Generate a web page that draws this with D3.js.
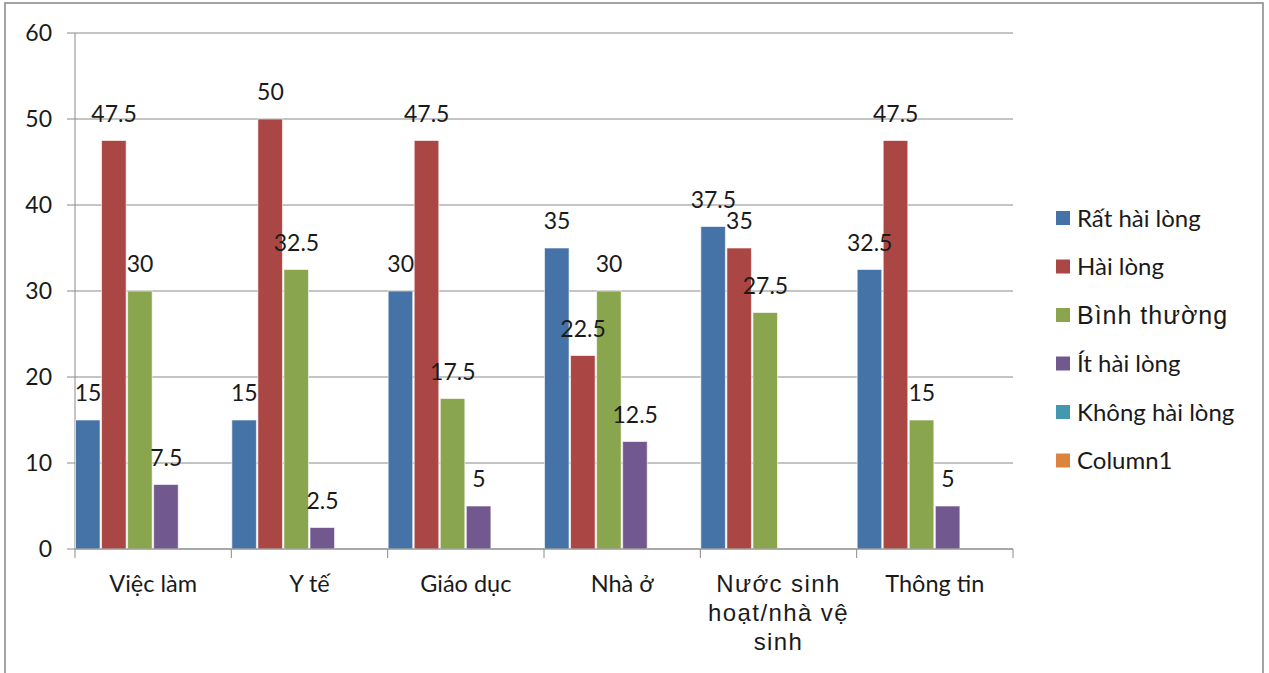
<!DOCTYPE html>
<html>
<head>
<meta charset="utf-8">
<script src="https://cdn.jsdelivr.net/npm/d3@7"></script>
<style>
  html, body { margin: 0; padding: 0; background: #fff; }
  svg { display: block; }
  .calib { font-family: Lato, "Open Sans", sans-serif; fill: #1a1a1a; }
  .arial { font-family: "Liberation Sans", Arial, sans-serif; fill: #1a1a1a; }
</style>
</head>
<body>
<script>
// Satisfaction survey, percentage of respondents per service area
const categories = ["Việc làm", "Y tế", "Giáo dục", "Nhà ở", "Nước sinh hoạt/nhà vệ sinh", "Thông tin"];
const seriesNames = ["Rất hài lòng", "Hài lòng", "Bình thường", "Ít hài lòng", "Không hài lòng", "Column1"];
const ratHaiLong    = [15, 15, 30, 35, 37.5, 32.5];
const haiLong       = [47.5, 50, 47.5, 22.5, 35, 47.5];
const binhThuong    = [30, 32.5, 17.5, 30, 27.5, 15];
const itHaiLong     = [7.5, 2.5, 5, 12.5, null, 5];
const khongHaiLong  = [null, null, null, null, null, null];
const column1       = [null, null, null, null, null, null];
const yTicks = [0, 10, 20, 30, 40, 50, 60];

const seriesValues = [ratHaiLong, haiLong, binhThuong, itHaiLong, khongHaiLong, column1];
const colors = ["#4572A7", "#AA4643", "#89A54E", "#71588F", "#4198AF", "#DB843D"];

const W = 1269, H = 673;
const svg = d3.select("body").append("svg").attr("width", W).attr("height", H);

// chart frame
svg.append("rect").attr("x", 5).attr("y", 3).attr("width", 1258).attr("height", 700)
  .attr("fill", "#fff").attr("stroke", "#8c8c8c").attr("stroke-width", 1.6);

const plot = { left: 75, right: 1013, top: 33, bottom: 549 };

const x0 = d3.scaleBand().domain(categories).range([plot.left, plot.right]).padding(0);
const x1 = d3.scaleBand().domain(seriesNames).range([0, x0.bandwidth()]).padding(0);
const y = d3.scaleLinear().domain([0, 60]).range([plot.bottom, plot.top]);

// horizontal gridlines with short ticks left of the axis
const grid = svg.append("g");
grid.selectAll("line").data(yTicks).join("line")
  .attr("x1", plot.left - 8).attr("x2", plot.right)
  .attr("y1", d => y(d)).attr("y2", d => y(d))
  .attr("stroke", "#8a8a8a").attr("stroke-width", 1);

// y axis line
svg.append("line").attr("x1", plot.left).attr("x2", plot.left)
  .attr("y1", plot.top).attr("y2", plot.bottom)
  .attr("stroke", "#8a8a8a").attr("stroke-width", 1);

// y tick labels
svg.append("g").selectAll("text").data(yTicks).join("text")
  .attr("class", "calib")
  .attr("x", 52).attr("y", d => y(d)).attr("dy", "0.36em")
  .attr("text-anchor", "end").attr("font-size", 23)
  .text(d => d);

// category tick marks
const catEdges = categories.map(c => x0(c)).concat([plot.right]);
svg.append("g").selectAll("line").data(catEdges).join("line")
  .attr("x1", d => d).attr("x2", d => d)
  .attr("y1", plot.bottom).attr("y2", plot.bottom + 9)
  .attr("stroke", "#8a8a8a").attr("stroke-width", 1);

// bars
const barData = [];
seriesValues.forEach((vals, si) => {
  vals.forEach((v, ci) => {
    if (v !== null) barData.push({ s: seriesNames[si], c: categories[ci], v, color: colors[si] });
  });
});

svg.append("g").selectAll("rect").data(barData).join("rect")
  .attr("x", d => x0(d.c) + x1(d.s) + 0.5)
  .attr("width", x1.bandwidth() - 1.5)
  .attr("y", d => y(d.v))
  .attr("height", d => y(0) - y(d.v))
  .attr("fill", d => d.color)
  .attr("stroke", "#ffffff").attr("stroke-opacity", 0.6).attr("stroke-width", 1);

// bottom axis line drawn over bar bases
svg.append("line").attr("x1", plot.left).attr("x2", plot.right)
  .attr("y1", plot.bottom).attr("y2", plot.bottom)
  .attr("stroke", "#8a8a8a").attr("stroke-width", 1);

// value labels
svg.append("g").selectAll("text").data(barData).join("text")
  .attr("class", "calib")
  .attr("x", d => x0(d.c) + x1(d.s) + x1.bandwidth() / 2)
  .attr("y", d => y(d.v) - 19)
  .attr("text-anchor", "middle").attr("font-size", 23)
  .text(d => d.v);

// category labels
const catLines = {
  "Nước sinh hoạt/nhà vệ sinh": ["Nước sinh", "hoạt/nhà vệ", "sinh"]
};
const catG = svg.append("g");
categories.forEach(c => {
  const cx = x0(c) + x0.bandwidth() / 2;
  if (catLines[c]) {
    catLines[c].forEach((line, i) => {
      catG.append("text").attr("class", "arial")
        .attr("x", cx).attr("y", 592 + i * 29)
        .attr("text-anchor", "middle").attr("font-size", 24)
        .attr("letter-spacing", 1.4)
        .text(line);
    });
  } else {
    catG.append("text").attr("class", "calib")
      .attr("x", cx).attr("y", 592)
      .attr("text-anchor", "middle").attr("font-size", 23.5)
      .text(c);
  }
});

// legend
const legend = svg.append("g");
seriesNames.forEach((name, i) => {
  const cy = 218 + i * 48.5;
  const isArial = name === "Bình thường";
  legend.append("rect").attr("x", 1056).attr("y", cy - 7).attr("width", 14).attr("height", 14)
    .attr("fill", colors[i]);
  legend.append("text")
    .attr("class", isArial ? "arial" : "calib")
    .attr("x", 1077).attr("y", cy).attr("dy", "0.36em")
    .attr("font-size", isArial ? 25 : 24)
    .attr("letter-spacing", isArial ? 1 : 0)
    .text(name);
});
</script>
</body>
</html>
